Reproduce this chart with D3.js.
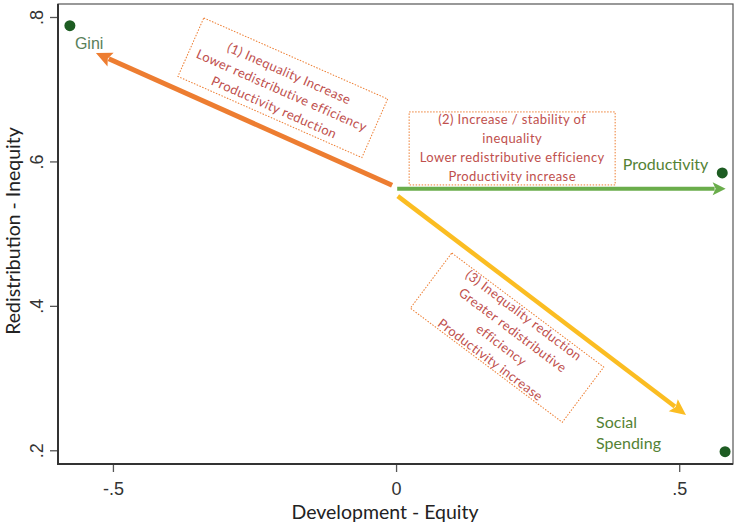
<!DOCTYPE html>
<html lang="en">
<head>
<meta charset="UTF-8">
<title>Development - Equity</title>
<script src="https://cdn.jsdelivr.net/npm/d3@7.9.0/dist/d3.min.js"></script>
<style>
  body { margin: 0; background: #fff; }
  svg { display: block; }
  .tick text { font-family: "Liberation Sans", Arial, sans-serif; font-size: 18px; fill: #333; }
  .axis-title { font-family: Lato, sans-serif; font-size: 19.5px; fill: #222; }
  .note { font-family: Lato, sans-serif; font-size: 13px; fill: #c0504d; letter-spacing: 0.4px; }
  .note-box { fill: none; stroke: #ed7d31; stroke-width: 1; stroke-dasharray: 1.5 1.5; }
  .label { font-family: Lato, sans-serif; font-size: 16px; fill: #548235; }
</style>
</head>
<body>
<svg id="chart" width="740" height="527"></svg>
<script>
// points in the corners
const pointNames = ['Gini', 'Productivity', 'Social Spending'];
const pointX = [-0.576, 0.576, 0.581];
const pointY = [0.788, 0.584, 0.198];

// arrows starting near the origin
const arrowStartX = [-0.007, 0.002, 0.003];
const arrowStartY = [0.567, 0.562, 0.552];
const arrowEndX = [-0.530, 0.582, 0.512];
const arrowEndY = [0.750, 0.562, 0.249];

const xTicks = [-0.5, 0, 0.5];
const xTickLabels = ['-.5', '0', '.5'];
const yTicks = [0.2, 0.4, 0.6, 0.8];
const yTickLabels = ['.2', '.4', '.6', '.8'];

// text in the dotted boxes
const note1 = ['(1) Inequality Increase', 'Lower redistributive efficiency', 'Productivity reduction'];
const note2 = ['(2) Increase / stability of', 'inequality', 'Lower redistributive efficiency', 'Productivity increase'];
const note3 = ['(3) Inequality reduction', 'Greater redistributive', 'efficiency', 'Productivity increase'];

const svg = d3.select('#chart');
const plotL = 58, plotR = 733, plotT = 4, plotB = 464;

const x = d3.scaleLinear().domain([-0.597, 0.595]).range([plotL, plotR]);
const y = d3.scaleLinear().domain([0.181, 0.818]).range([plotB, plotT]);

// frame
svg.append('rect')
    .attr('x', plotL).attr('y', plotT)
    .attr('width', plotR - plotL).attr('height', plotB - plotT)
    .attr('fill', '#fff')
    .attr('stroke', '#555')
    .attr('stroke-width', 1.2);

// axes
let xAxis = svg.append('g')
    .attr('transform', `translate(0,${plotB})`)
    .call(d3.axisBottom(x).tickValues(xTicks).tickSize(8).tickFormat((d, i) => xTickLabels[i]));
xAxis.select('.domain').remove();
xAxis.selectAll('.tick line').attr('stroke', '#555').attr('stroke-width', 1.3);
xAxis.selectAll('.tick text').attr('y', 31).attr('dy', null);

let yAxis = svg.append('g')
    .attr('transform', `translate(${plotL},0)`)
    .call(d3.axisLeft(y).tickValues(yTicks).tickSize(8).tickFormat((d, i) => yTickLabels[i]));
yAxis.select('.domain').remove();
yAxis.selectAll('.tick line').attr('stroke', '#555').attr('stroke-width', 1.3);
yAxis.selectAll('.tick text')
    .attr('x', null).attr('dy', null)
    .attr('text-anchor', 'middle')
    .attr('transform', 'translate(-15,0) rotate(-90)');

// axis lines drawn a bit heavier
svg.append('line').attr('x1', plotL).attr('x2', plotL).attr('y1', plotT).attr('y2', plotB + 1)
    .attr('stroke', '#333').attr('stroke-width', 2);
svg.append('line').attr('x1', plotL).attr('x2', plotR).attr('y1', plotB).attr('y2', plotB)
    .attr('stroke', '#333').attr('stroke-width', 2);

svg.append('text').attr('class', 'axis-title')
    .attr('x', 385).attr('y', 519)
    .attr('text-anchor', 'middle')
    .text('Development - Equity');

svg.append('text').attr('class', 'axis-title')
    .attr('transform', 'translate(20,231) rotate(-90)')
    .attr('text-anchor', 'middle')
    .text('Redistribution - Inequity');

// dotted note boxes
function noteBox(cx, cy, w, h, angle, lines, gap, shift) {
    let g = svg.append('g')
        .attr('transform', `translate(${cx},${cy}) rotate(${angle})`);
    g.append('rect').attr('class', 'note-box')
        .attr('x', -w / 2).attr('y', -h / 2).attr('width', w).attr('height', h);
    g.selectAll('text').data(lines).enter().append('text')
        .attr('class', 'note')
        .attr('text-anchor', 'middle')
        .attr('y', (d, i) => (i - (lines.length - 1) / 2) * gap + shift + 4.5)
        .text(d => d);
}
noteBox(x(-0.2), y(0.702), 201, 64, 23.8, note1, 18.5, 3);
noteBox(x(0.205), y(0.618), 206, 73, 0, note2, 19, 0);
noteBox(x(0.196), y(0.356), 190, 69, 36.9, note3, 18.5, 0);

// arrows
const arrowColors = ['#ed7d31', '#6aad4b', '#fbbd22'];
const arrowWidths = [5, 4, 4.5];
const headLen = [16, 13, 16];
const headWide = [15, 13, 15];

arrowStartX.forEach((sx, i) => {
    let x1 = x(sx), y1 = y(arrowStartY[i]);
    let x2 = x(arrowEndX[i]), y2 = y(arrowEndY[i]);
    let len = Math.hypot(x2 - x1, y2 - y1);
    let ux = (x2 - x1) / len, uy = (y2 - y1) / len;
    let bx = x2 - ux * headLen[i], by = y2 - uy * headLen[i];
    svg.append('line')
        .attr('x1', x1).attr('y1', y1)
        .attr('x2', bx + ux * 2).attr('y2', by + uy * 2)
        .attr('stroke', arrowColors[i])
        .attr('stroke-width', arrowWidths[i]);
    let hw = headWide[i] / 2;
    svg.append('path')
        .attr('d', `M${x2},${y2}L${bx - uy * hw},${by + ux * hw}L${bx + ux * 3},${by + uy * 3}L${bx + uy * hw},${by - ux * hw}Z`)
        .attr('fill', arrowColors[i]);
});

// points
svg.selectAll('circle.pt')
    .data(pointNames)
    .enter().append('circle')
    .attr('class', 'pt')
    .attr('cx', (d, i) => x(pointX[i]))
    .attr('cy', (d, i) => y(pointY[i]))
    .attr('r', 5.5)
    .attr('fill', '#1d5c22');

// labels
svg.append('text')
    .attr('x', x(pointX[0]) + 5).attr('y', y(pointY[0]) + 23)
    .attr('font-family', '"Liberation Sans", Arial, sans-serif')
    .attr('font-size', 16)
    .attr('fill', '#58805a')
    .text(pointNames[0]);

svg.append('text').attr('class', 'label')
    .attr('x', x(pointX[1]) - 14).attr('y', y(pointY[1]) - 3)
    .attr('text-anchor', 'end')
    .text(pointNames[1]);

let ss = svg.append('text').attr('class', 'label')
    .attr('x', x(pointX[2]) - 129).attr('y', y(pointY[2]) - 24);
pointNames[2].split(' ').forEach((w, i) => {
    ss.append('tspan')
        .attr('x', x(pointX[2]) - 129)
        .attr('dy', i === 0 ? 0 : 21)
        .text(w);
});
</script>
</body>
</html>
